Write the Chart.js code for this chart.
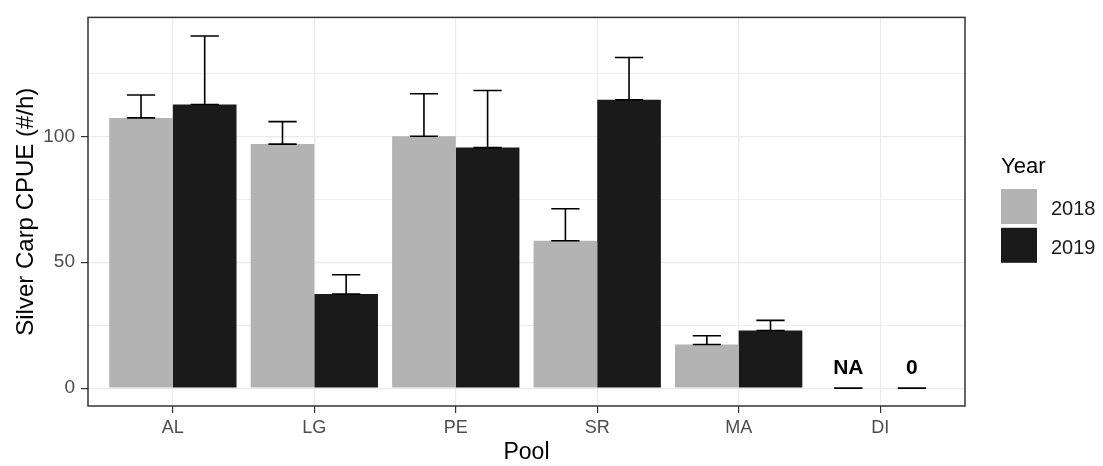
<!DOCTYPE html>
<html>
<head>
<meta charset="utf-8">
<script src="https://cdn.jsdelivr.net/npm/chart.js@4/dist/chart.umd.min.js"></script>
<style>
  html, body { margin: 0; padding: 0; background: #fff; }
  #wrap { width: 1103px; height: 466px; position: relative; }
</style>
</head>
<body>
<div id="wrap"><canvas id="c" width="1103" height="466"></canvas></div>
<script>
// ---- data ----
const categories = ['AL', 'LG', 'PE', 'SR', 'MA', 'DI'];
const years = ['2018', '2019'];
const cpue2018 = [107.3, 96.9, 100.0, 58.5, 17.3, 0];
const cpue2019 = [112.6, 37.4, 95.5, 114.5, 22.9, 0];
const upper2018 = [116.4, 105.8, 116.9, 71.2, 20.8, 0];
const upper2019 = [139.8, 45.0, 118.2, 131.3, 26.9, 0];
const text2018 = ['', '', '', '', '', 'NA'];
const text2019 = ['', '', '', '', '', '0'];
const yTicks = [0, 25, 50, 75, 100, 125];
const yLabelTicks = [0, 50, 100];

const colors = ['#B3B3B3', '#1A1A1A'];
const FONT = '"Liberation Sans", Arial, sans-serif';

const toPoints = arr => arr.map((v, i) => ({ x: i + 1, y: v }));

const errorPlugin = {
  id: 'errorbars',
  afterDatasetsDraw(chart) {
    const ctx = chart.ctx;
    const xs = chart.scales.x, ys = chart.scales.y;
    const capW = xs.getPixelForValue(0.2) - xs.getPixelForValue(0);
    const uppers = [upper2018, upper2019];
    const texts = [text2018, text2019];
    ctx.save();
    chart.data.datasets.forEach((ds, di) => {
      const meta = chart.getDatasetMeta(di);
      meta.data.forEach((bar, i) => {
        const cx = bar.x;
        const yLo = ys.getPixelForValue(ds.data[i].y);
        const yHi = ys.getPixelForValue(uppers[di][i]);
        ctx.strokeStyle = '#000';
        ctx.lineWidth = 1.6;
        ctx.beginPath();
        ctx.moveTo(cx - capW / 2, yHi); ctx.lineTo(cx + capW / 2, yHi);
        ctx.moveTo(cx, yHi); ctx.lineTo(cx, yLo);
        ctx.moveTo(cx - capW / 2, yLo); ctx.lineTo(cx + capW / 2, yLo);
        ctx.stroke();
        const t = texts[di][i];
        if (t) {
          ctx.fillStyle = '#000';
          ctx.font = 'bold 21px ' + FONT;
          ctx.textAlign = 'center';
          ctx.textBaseline = 'alphabetic';
          ctx.fillText(t, cx, ys.getPixelForValue(0) - 14.5);
        }
      });
    });
    ctx.restore();
  },
  afterDraw(chart) {
    const ctx = chart.ctx;
    const a = chart.chartArea;
    ctx.save();
    // panel border
    ctx.strokeStyle = '#333333';
    ctx.lineWidth = 1.5;
    ctx.strokeRect(a.left, a.top, a.right - a.left, a.bottom - a.top);
    // legend
    const lx = a.right + 36, ly = 189;
    ctx.fillStyle = '#000';
    ctx.font = '22px ' + FONT;
    ctx.textAlign = 'left';
    ctx.textBaseline = 'alphabetic';
    ctx.fillText('Year', lx, 173);
    chart.data.datasets.forEach((ds, i) => {
      const top = ly + i * 38.8;
      ctx.fillStyle = ds.backgroundColor;
      ctx.fillRect(lx, top, 36, 35);
      ctx.fillStyle = '#1A1A1A';
      ctx.font = '20px ' + FONT;
      ctx.textBaseline = 'middle';
      ctx.fillText(ds.label, lx + 50, top + 17.5 + 3);
    });
    ctx.restore();
  }
};

new Chart(document.getElementById('c'), {
  type: 'bar',
  data: {
    datasets: [
      { label: years[0], data: toPoints(cpue2018), backgroundColor: colors[0], borderWidth: 0 },
      { label: years[1], data: toPoints(cpue2019), backgroundColor: colors[1], borderWidth: 0 }
    ]
  },
  options: {
    responsive: false,
    animation: false,
    layout: { padding: { left: 0, top: 10, right: 138, bottom: 0 } },
    categoryPercentage: 0.9,
    barPercentage: 1.0,
    plugins: { legend: { display: false }, tooltip: { enabled: false } },
    scales: {
      x: {
        type: 'linear',
        min: 0.4,
        max: 6.6,
        offset: false,
        afterBuildTicks: s => { s.ticks = categories.map((c, i) => ({ value: i + 1 })); },
        afterFit: s => { s.height = 60; },
        ticks: {
          callback: v => categories[v - 1],
          color: '#4D4D4D',
          font: { family: FONT, size: 18 },
          padding: 4,
          maxRotation: 0,
          autoSkip: false
        },
        grid: { offset: false, color: '#EBEBEB', lineWidth: 1.2, tickLength: 7, tickColor: '#333333', tickWidth: 1.2 },
        border: { display: false },
        title: { display: true, text: 'Pool', color: '#000', font: { family: FONT, size: 23 }, padding: { top: 0, bottom: 0 } }
      },
      y: {
        min: -7.1,
        max: 147.2,
        afterBuildTicks: s => { s.ticks = yTicks.map(v => ({ value: v })); },
        afterFit: s => { s.width = 88; },
        ticks: {
          callback: v => (yLabelTicks.includes(v) ? String(v) : ''),
          color: '#4D4D4D',
          font: { family: FONT, size: 19 },
          padding: 6
        },
        grid: {
          color: '#EBEBEB',
          lineWidth: c => (c.tick && yLabelTicks.includes(c.tick.value) ? 1.2 : 0.8),
          tickLength: 7,
          tickColor: c => (c.tick && yLabelTicks.includes(c.tick.value) ? '#333333' : 'rgba(0,0,0,0)'),
          tickWidth: 1.2
        },
        border: { display: false },
        title: { display: true, text: 'Silver Carp CPUE (#/h)', color: '#000', font: { family: FONT, size: 24 }, padding: { top: 12, bottom: 0 } }
      }
    }
  },
  plugins: [errorPlugin]
});
</script>
</body>
</html>
